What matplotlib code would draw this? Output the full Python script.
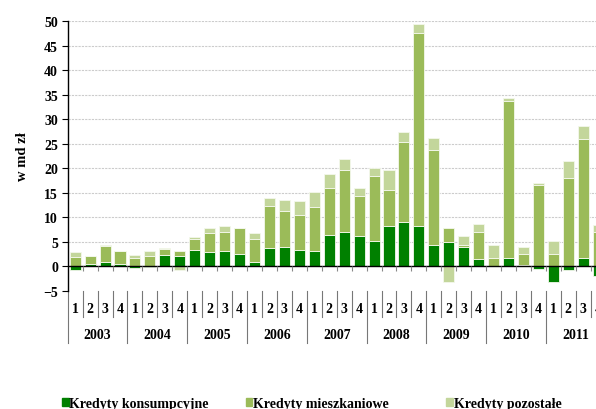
import numpy as np
import matplotlib.pyplot as plt
import matplotlib.transforms as mtransforms

plt.rcParams['font.family'] = ['Liberation Serif', 'DejaVu Serif']
plt.rcParams['font.weight'] = 'bold'

# quarterly changes, bln PLN, 2003Q1 - 2011Q4
years = ['2003', '2004', '2005', '2006', '2007', '2008', '2009', '2010', '2011']
quarters = ['1', '2', '3', '4']
konsumpcyjne = [-0.7, 0.5, 0.9, 0.5, -0.35, -0.15, 2.3, 2.2, 3.4,
                3.0, 3.2, 2.6, 0.95, 3.8, 4.0, 3.4,
                3.2, 6.45, 7.0, 6.3, 5.2, 8.3, 9.1, 8.3,
                4.4, 5.0, 4.0, 1.55, 0.0, 1.8, 0.35, -0.55,
                -3.1, -0.75, 1.8, -1.95]
mieszkaniowe = [2.0, 1.55, 3.2, 2.55, 1.8, 2.2, 1.3, 0.95, 2.2,
                3.85, 3.9, 5.15, 4.7, 8.55, 7.35, 7.1,
                8.9, 9.45, 12.7, 8.1, 13.25, 7.25, 16.25, 39.3,
                19.35, 2.8, 0.4, 5.45, 1.8, 32.0, 2.25, 16.65,
                2.6, 18.0, 24.25, 7.05]
pozostale = [0.9, 0.1, 0.25, 0.1, 0.55, 0.95, 0.1, -0.7, 0.4,
             0.95, 1.15, 0.15, 1.1, 1.55, 2.15, 2.8,
             3.05, 3.0, 2.25, 1.65, 1.55, 4.15, 2.1, 1.75,
             2.35, -3.25, 1.75, 1.7, 2.6, 0.55, 1.4, 0.4,
             2.6, 3.4, 2.5, 1.4]

series = [('Kredyty konsumpcyjne', konsumpcyjne, '#008000'),
          ('Kredyty mieszkaniowe', mieszkaniowe, '#9BBB59'),
          ('Kredyty pozostałe', pozostale, '#C3D69B')]

n = len(konsumpcyjne)
x = np.arange(n)

fig = plt.figure(figsize=(5.96, 4.10), dpi=100)
# plot area runs past the right edge, last quarter is cut off
ax = fig.add_axes([0.1136, 0.2878, 0.9027, 0.6585])

pos_base = np.zeros(n)
neg_base = np.zeros(n)
for name, vals, col in series:
    v = np.array(vals)
    bottom = np.where(v >= 0, pos_base, neg_base)
    ax.bar(x, v, width=0.74, bottom=bottom, color=col, edgecolor='#f4f8ec',
           linewidth=0.6, zorder=3, label=name)
    pos_base += np.where(v >= 0, v, 0)
    neg_base += np.where(v < 0, v, 0)

ax.set_xlim(-0.5, n - 0.5)
ax.set_ylim(-5, 50)
ax.set_yticks(np.arange(-5, 51, 5))
ax.tick_params(axis='y', direction='out', length=4, width=0.8, pad=3,
               labelsize=10)
for lbl in ax.get_yticklabels():
    lbl.set_fontweight('bold')
ax.set_xticks([])
for s in ['top', 'right', 'bottom']:
    ax.spines[s].set_visible(False)
ax.spines['left'].set_linewidth(1.0)

for g in range(5, 51, 5):
    ax.axhline(g, color='#cccccc', lw=0.8, ls=(0, (2, 1)), zorder=1)
ax.axhline(0, color='black', lw=1.0, zorder=4)
# small marks between quarters on the zero line
ax.vlines(np.arange(n) + 0.5, -0.9, 0, color='#888888', lw=0.8, zorder=4)

ax.set_ylabel('w md zł', fontsize=10.5, fontweight='bold', labelpad=10)

# category table under the plot
trans = mtransforms.blended_transform_factory(ax.transData, ax.transAxes)
for i in range(n):
    ax.text(i, -0.066, quarters[i % 4], transform=trans, ha='center',
            va='center', fontsize=10, fontweight='bold')
for b in range(n + 1):
    low = -0.193 if b % 4 == 0 else -0.097
    ax.plot([b - 0.5, b - 0.5], [0, low], transform=trans, color='#777777',
            lw=0.8, clip_on=False)
for k, yr in enumerate(years):
    ax.text(4 * k + 1.5, -0.162, yr, transform=trans, ha='center',
            va='center', fontsize=10, fontweight='bold')

# legend along the bottom edge
leg_x = [0.104, 0.412, 0.749]
for (name, vals, col), lx in zip(series, leg_x):
    fig.patches.append(plt.Rectangle((lx, 0.0085), 0.0115, 0.0175,
                                     transform=fig.transFigure,
                                     color=col, figure=fig))
    fig.text(lx + 0.012, 0.0145, name, fontsize=10, fontweight='bold',
             va='center', ha='left')

fig.savefig('out.png', dpi=100)
